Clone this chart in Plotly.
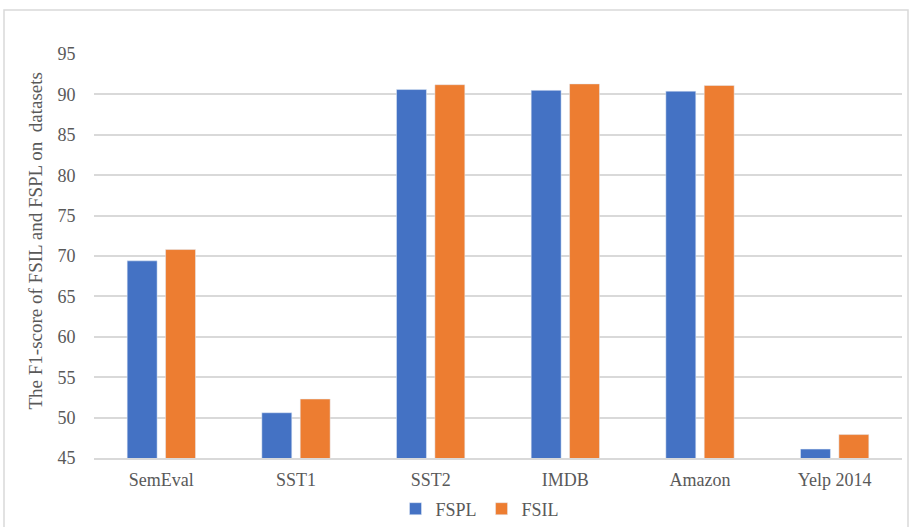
import plotly.graph_objects as go

categories = ["SemEval", "SST1", "SST2", "IMDB", "Amazon", "Yelp 2014"]
fspl = [69.4, 50.6, 90.6, 90.5, 90.4, 46.1]
fsil = [70.8, 52.3, 91.2, 91.3, 91.1, 47.9]
yticks = [45, 50, 55, 60, 65, 70, 75, 80, 85, 90, 95]
ytitle = "The F1-score of FSIL and FSPL on\u00a0 datasets"

FONT = "Liberation Serif, Times New Roman, serif"
GRAY = "#595959"

fig = go.Figure()
fig.add_trace(go.Bar(name="FSPL", x=categories, y=fspl, marker_color="#4472C4"))
fig.add_trace(go.Bar(name="FSIL", x=categories, y=fsil, marker_color="#ED7D31"))

L, R, T, B = 94, 8, 54, 69
W, H = 910, 527
pw = W - L - R
ph = H - T - B

fig.update_layout(
    width=W, height=H,
    margin=dict(l=L, r=R, t=T, b=B, autoexpand=False),
    paper_bgcolor="white", plot_bgcolor="white",
    barmode="group", bargap=0.43, bargroupgap=0.22,
    font=dict(family=FONT, size=18, color=GRAY),
    showlegend=True,
    legend=dict(orientation="h", x=(455 + 25) / W, xref="container", xanchor="center",
                yref="container", y=1 - 509 / H, yanchor="middle", bgcolor="rgba(0,0,0,0)",
                font=dict(family=FONT, size=18, color=GRAY), itemwidth=30, traceorder="normal"),
    xaxis=dict(showgrid=False, showline=True, linecolor="#d9d9d9", linewidth=1.5,
               ticks="outside", ticklen=5, tickcolor="rgba(0,0,0,0)",
               tickfont=dict(family=FONT, size=18, color=GRAY)),
    yaxis=dict(range=[45, 95], tickvals=yticks, showgrid=True, gridcolor="#d9d9d9", gridwidth=1.5,
               zeroline=False, showline=False, ticks="outside", ticklen=14, tickcolor="rgba(0,0,0,0)",
               tickfont=dict(family=FONT, size=18, color=GRAY)),
)

fig.add_annotation(text=ytitle, textangle=-90, xref="paper", yref="paper",
                   x=(35 - L) / pw, y=(458 - 241.5) / ph, xanchor="center", yanchor="middle",
                   showarrow=False, font=dict(family=FONT, size=19, color=GRAY))

fig.add_shape(type="rect", xref="paper", yref="paper",
              x0=(4 - L) / pw, x1=(908 - L) / pw,
              y0=(458 - 540) / ph, y1=(458 - 10) / ph,
              line=dict(color="#d9d9d9", width=1.5), fillcolor="rgba(0,0,0,0)", layer="below")

fig.write_html("out.html")
